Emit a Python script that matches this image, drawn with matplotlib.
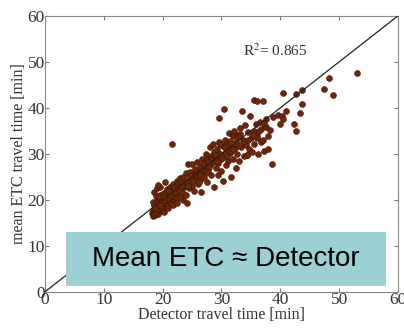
import matplotlib
matplotlib.use("Agg")
import matplotlib.pyplot as plt
from matplotlib.patches import Rectangle

# detector vs mean ETC travel time [min]
det = [18.2, 18.4, 18.5, 18.6, 18.7, 18.8, 18.9, 19.0, 19.0, 19.1, 19.2, 19.3, 19.4, 19.5, 19.5,
       19.6, 19.7, 19.8, 19.9, 20.0, 20.0, 20.1, 20.2, 20.3, 20.4, 20.5, 20.6, 20.7, 20.8, 20.9,
       21.0, 21.1, 21.2, 21.3, 21.4, 21.5, 21.6, 21.7, 21.8, 21.9, 22.0, 22.1, 22.2, 22.3, 22.4,
       22.5, 22.6, 22.7, 22.8, 22.9, 18.6, 19.0, 19.6, 20.5, 19.3, 18.9, 18.4, 20.2, 21.0, 21.8,
       22.5, 23.4, 24.1, 23.0, 18.3, 18.5, 18.8, 19.1, 19.4, 19.7, 20.0, 20.3, 20.6, 20.9, 21.2,
       21.5, 19.2, 19.8, 20.4, 21.1, 18.5, 18.9, 19.3, 19.7, 20.1, 20.5, 20.9, 21.3, 21.7, 22.1,
       18.7, 19.5, 20.3, 21.1, 21.9, 22.7, 23.5, 24.3, 25.1, 25.9,
       23.0, 23.2, 23.4, 23.5, 23.6, 23.8, 24.0, 24.0, 24.2, 24.3, 24.5, 24.6, 24.8, 25.0, 25.0,
       25.2, 25.4, 25.5, 25.7, 25.8, 26.0, 26.1, 26.3, 26.5, 26.6, 26.7, 26.8, 27.0, 27.1, 27.3,
       27.4, 27.5, 27.6, 27.8, 28.0, 28.0, 28.2, 28.3, 28.5, 28.6, 28.7, 28.8, 29.0, 29.1, 29.2,
       29.4, 29.5, 29.6, 29.6, 29.8, 30.0, 30.0, 30.2, 30.3, 30.4, 30.5, 30.6, 30.7, 30.8, 31.0,
       31.2, 31.3, 31.5, 31.7, 31.8, 32.0, 32.0, 32.2, 32.4, 32.5, 32.7, 32.9, 33.0, 33.2, 33.2,
       33.4, 33.5, 33.6, 33.8, 34.0, 34.2, 34.4, 34.5, 34.7, 34.9, 35.0, 35.2, 35.5, 35.5, 35.6,
       35.8, 36.0, 36.0, 36.1, 36.3, 36.5, 36.7, 36.8, 37.0, 37.0, 37.2, 37.4, 37.5, 37.6, 37.9,
       38.0, 38.3, 38.6, 38.8, 39.6, 39.9, 40.3, 40.5, 40.5, 41.0, 42.3, 42.6, 42.6, 43.3, 43.7,
       43.7, 47.4, 48.3, 49.0, 53.0, 21.6, 29.8, 34.4,
       23.3, 24.4, 25.1, 25.9, 26.4, 27.2, 27.9, 28.4, 29.3, 30.1, 30.9, 31.6, 32.3, 33.1, 33.9,
       24.7, 26.2, 27.7, 29.7, 31.4, 26.9, 27.6, 28.9, 30.6, 31.9, 32.8, 34.6, 35.3, 36.4, 37.3]
etc = [17.2, 16.5, 18.0, 17.5, 19.0, 16.8, 18.5, 17.8, 19.8, 18.2, 17.0, 19.2, 18.6, 20.0, 17.6,
       21.0, 18.9, 19.5, 17.9, 20.5, 18.4, 19.1, 21.6, 19.8, 18.7, 20.9, 19.3, 22.3, 20.1, 18.9,
       21.2, 19.7, 22.8, 20.5, 19.4, 21.8, 20.2, 23.5, 21.0, 19.8, 22.4, 20.6, 23.0, 21.4, 24.2,
       20.5, 22.0, 23.6, 21.2, 24.8, 21.8, 22.5, 22.9, 23.8, 23.3, 20.8, 19.5, 17.4, 18.3, 19.0,
       19.4, 20.0, 19.3, 20.6, 17.8, 18.8, 17.9, 19.4, 20.7, 19.6, 21.3, 20.0, 21.5, 20.4, 21.9,
       20.8, 18.0, 19.0, 20.2, 20.9, 17.0, 17.4, 18.1, 18.4, 19.6, 19.9, 20.5, 21.1, 22.2, 21.7,
       18.3, 18.9, 20.7, 22.0, 22.9, 22.6, 24.4, 23.2, 25.6, 26.6,
       22.0, 24.0, 21.5, 25.0, 22.8, 23.5, 21.0, 25.8, 24.2, 27.9, 22.5, 26.0, 24.8, 23.0, 27.9,
       25.5, 22.0, 26.8, 24.5, 28.3, 25.8, 23.5, 27.2, 24.6, 21.8, 29.0, 26.2, 28.0, 25.0, 27.0,
       30.0, 23.8, 28.8, 26.5, 31.5, 27.5, 29.6, 25.4, 28.3, 32.2, 22.9, 30.4, 27.0, 29.0, 31.0,
       25.5, 28.0, 32.6, 37.9, 30.0, 26.2, 28.8, 31.8, 24.2, 29.6, 39.7, 33.0, 27.5, 30.8, 32.2,
       28.4, 34.5, 30.2, 24.9, 31.5, 33.8, 29.0, 35.0, 27.0, 32.5, 30.0, 34.2, 28.5, 35.6, 34.4,
       31.5, 39.3, 33.0, 29.5, 36.2, 32.0, 29.8, 34.8, 31.0, 38.2, 33.5, 30.5, 35.0, 41.8, 32.2,
       36.5, 41.6, 33.8, 33.4, 30.0, 37.0, 35.5, 32.5, 41.5, 33.0, 30.6, 36.0, 35.9, 37.5, 31.1,
       34.0, 35.2, 27.9, 38.0, 38.4, 36.4, 38.3, 37.5, 43.2, 39.3, 36.5, 35.0, 43.1, 39.0, 43.9,
       40.9, 44.1, 46.5, 42.7, 47.5, 32.1, 32.1, 29.8,
       23.1, 23.0, 24.1, 25.2, 25.5, 26.3, 27.1, 28.9, 28.5, 29.1, 29.5, 30.7, 31.2, 32.0, 32.8,
       25.3, 24.0, 28.2, 29.9, 32.9, 27.8, 26.1, 29.8, 31.4, 31.0, 33.6, 33.1, 34.2, 34.9, 36.8]

fig = plt.figure(figsize=(4.04, 3.31), dpi=100)
ax = fig.add_axes([0.111, 0.118, 0.874, 0.834])

ax.scatter(det, etc, s=18, c="#6e2709", edgecolors="#3d1205", linewidths=0.4, zorder=2)
ax.plot([0, 60], [0, 60], color="#222222", lw=0.9, zorder=3)

ax.set_xlim(0, 60)
ax.set_ylim(0, 60)
ax.set_xticks(range(0, 61, 10))
ax.set_yticks(range(0, 61, 10))
ax.tick_params(direction="in", length=3, top=True, right=True, labelsize=12.5,
               color="#777777", pad=0)
for lbl in ax.get_xticklabels() + ax.get_yticklabels():
    lbl.set_family("Liberation Serif")
    lbl.set_color("#333333")
for sp in ax.spines.values():
    sp.set_color("#888888")

ax.set_xlabel("Detector travel time [min]", family="Liberation Serif", fontsize=11.5,
              color="#333333", labelpad=-1)
ax.set_ylabel("mean ETC travel time [min]", family="Liberation Serif", fontsize=11.5,
              color="#333333", labelpad=0)

ax.text(33.6, 52.4, r"R$^2$= 0.865", family="Liberation Serif", fontsize=11,
        color="#333333", va="center", math_fontfamily="stix")

# annotation box on top of the plot
fig.patches.append(Rectangle((0.163, 0.136), 0.792, 0.163, transform=fig.transFigure,
                             facecolor="#9bd1d4", edgecolor="none", zorder=5))
fig.text(0.559, 0.2175, "Mean ETC \u2248 Detector", family=["Liberation Sans", "DejaVu Sans"],
         fontsize=20, ha="center", va="center", color="black", zorder=6)

fig.savefig("out.png", dpi=100)
